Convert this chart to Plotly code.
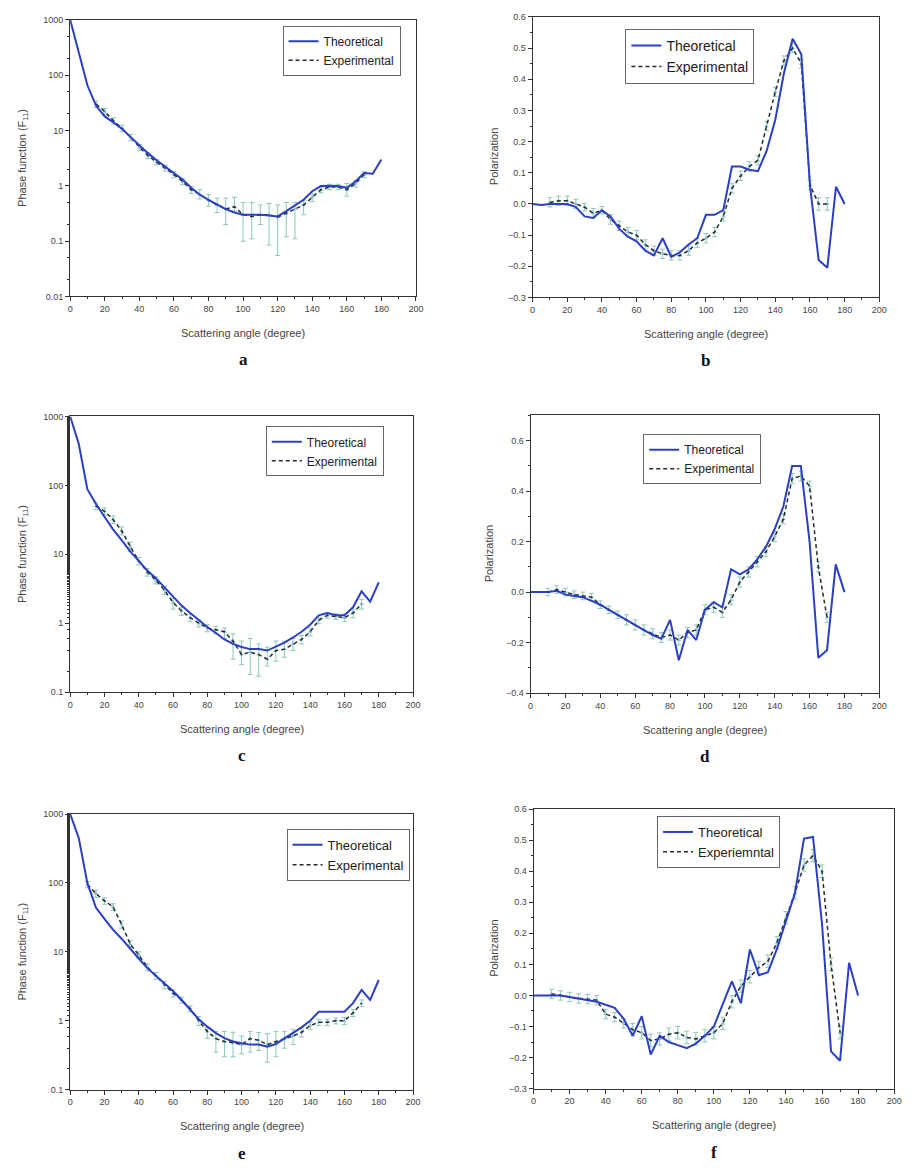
import plotly.graph_objects as go

W, H = 914, 1168

# ---- angles ----
theta = list(range(0, 181, 5))
exp_theta_15 = list(range(15, 171, 5))
exp_theta_10 = list(range(10, 171, 5))

# ---- panel a: phase function ----
theo_a = [1000, 270, 65, 28, 18, 14, 10.7, 7.6, 5.4, 3.9, 2.9, 2.2, 1.7, 1.3, 0.92, 0.69,
          0.56, 0.46, 0.38, 0.33, 0.30, 0.30, 0.30, 0.29, 0.28, 0.35, 0.44, 0.56, 0.80,
          0.99, 1.0, 0.99, 0.92, 1.2, 1.7, 1.65, 3.0]
exp_a = [30, 22, 15, 11, 7.5, 5.0, 3.5, 2.7, 2.1, 1.6, 1.2, 0.85, 0.70, 0.55, 0.45, 0.38,
         0.42, 0.30, 0.28, 0.30, 0.30, 0.27, 0.32, 0.38, 0.45, 0.62, 0.85, 0.95, 0.95,
         0.85, 1.1, 1.6]
exp_a_plus = [4, 3, 2, 1.5, 1, 0.6, 0.4, 0.3, 0.25, 0.2, 0.15, 0.12, 0.15, 0.15, 0.15,
              0.22, 0.2, 0.2, 0.22, 0.15, 0.18, 0.18, 0.18, 0.12, 0.1, 0.1, 0.1, 0.12,
              0.12, 0.25, 0.15, 0.2]
exp_a_minus = [4, 3, 2, 1.5, 1, 0.6, 0.4, 0.3, 0.25, 0.2, 0.15, 0.12, 0.12, 0.12, 0.12,
               0.18, 0.07, 0.2, 0.17, 0.1, 0.215, 0.215, 0.2, 0.27, 0.15, 0.1, 0.1, 0.1,
               0.1, 0.2, 0.15, 0.2]

# ---- panel b: polarization ----
theo_b = [0.0, -0.003, 0.0, 0.0, 0.0, -0.01, -0.04, -0.045, -0.02, -0.04, -0.08, -0.105,
          -0.12, -0.15, -0.165, -0.11, -0.17, -0.155, -0.13, -0.11, -0.035, -0.035, -0.02,
          0.12, 0.12, 0.11, 0.105, 0.17, 0.27, 0.42, 0.53, 0.48, 0.06, -0.18, -0.205,
          0.055, 0.0]
exp_b = [0.005, 0.01, 0.01, 0.0, -0.01, -0.03, -0.02, -0.05, -0.07, -0.09, -0.10, -0.13,
         -0.15, -0.16, -0.165, -0.165, -0.15, -0.125, -0.11, -0.09, -0.04, 0.05, 0.09,
         0.12, 0.14, 0.25, 0.36, 0.46, 0.50, 0.45, 0.06, 0.0, 0.0]
exp_b_err = [0.015, 0.015, 0.015, 0.015, 0.012, 0.015, 0.012, 0.015, 0.015, 0.015, 0.015,
             0.015, 0.015, 0.015, 0.015, 0.015, 0.015, 0.015, 0.015, 0.015, 0.015, 0.015,
             0.015, 0.015, 0.015, 0.015, 0.015, 0.015, 0.015, 0.015, 0.015, 0.02, 0.02]

# ---- panel c: phase function ----
theo_c = [1000, 400, 88, 54, 35, 23, 16, 11, 8.0, 5.8, 4.5, 3.3, 2.4, 1.8, 1.4, 1.1, 0.88,
          0.72, 0.58, 0.5, 0.45, 0.42, 0.42, 0.40, 0.45, 0.52, 0.62, 0.75, 0.95, 1.3,
          1.4, 1.3, 1.3, 1.7, 2.9, 2.05, 3.9]
exp_c = [50, 42, 32, 22, 13, 8, 5.5, 4.2, 3.0, 2.0, 1.5, 1.2, 1.0, 0.85, 0.80, 0.75, 0.55,
         0.35, 0.38, 0.35, 0.30, 0.40, 0.42, 0.50, 0.58, 0.75, 1.1, 1.3, 1.25, 1.2, 1.4,
         1.9]
exp_c_plus = [6, 5, 4, 3, 2, 1, 0.7, 0.5, 0.4, 0.3, 0.2, 0.15, 0.12, 0.1, 0.1, 0.1, 0.15,
              0.2, 0.22, 0.15, 0.15, 0.15, 0.12, 0.1, 0.08, 0.1, 0.12, 0.12, 0.12, 0.15,
              0.2, 0.3]
exp_c_minus = [6, 5, 4, 3, 2, 1, 0.7, 0.5, 0.4, 0.4, 0.2, 0.15, 0.12, 0.1, 0.1, 0.15,
               0.25, 0.1, 0.2, 0.18, 0.06, 0.12, 0.1, 0.1, 0.08, 0.1, 0.12, 0.12, 0.12,
               0.15, 0.2, 0.3]

# ---- panel d: polarization ----
theo_d = [0.0, 0.0, 0.0, 0.005, -0.01, -0.015, -0.02, -0.035, -0.05, -0.07, -0.09, -0.11,
          -0.13, -0.15, -0.17, -0.185, -0.11, -0.27, -0.15, -0.19, -0.07, -0.04, -0.06,
          0.09, 0.07, 0.09, 0.13, 0.18, 0.25, 0.34, 0.50, 0.50, 0.20, -0.26, -0.23, 0.11,
          0.0]
exp_d = [0.0, 0.01, 0.0, -0.01, -0.015, -0.02, -0.05, -0.07, -0.09, -0.11, -0.13, -0.15,
         -0.165, -0.18, -0.17, -0.19, -0.16, -0.15, -0.07, -0.06, -0.08, -0.03, 0.04, 0.08,
         0.12, 0.16, 0.22, 0.29, 0.45, 0.46, 0.42, 0.10, -0.10]
exp_d_err = [0.015, 0.015, 0.015, 0.015, 0.015, 0.015, 0.015, 0.015, 0.015, 0.02, 0.02,
             0.02, 0.02, 0.02, 0.02, 0.02, 0.02, 0.02, 0.02, 0.02, 0.02, 0.02, 0.02, 0.02,
             0.02, 0.02, 0.02, 0.02, 0.02, 0.02, 0.02, 0.02, 0.02]

# ---- panel e: phase function ----
theo_e = [1000, 450, 100, 44, 30, 21, 15.5, 11, 8.0, 5.8, 4.5, 3.4, 2.7, 2.0, 1.45, 1.05,
          0.82, 0.66, 0.56, 0.5, 0.47, 0.45, 0.45, 0.42, 0.46, 0.55, 0.65, 0.8, 1.0, 1.35,
          1.35, 1.35, 1.35, 1.8, 2.8, 2.0, 3.9]
exp_e = [95, 70, 55, 45, 25, 13, 9, 6, 4.5, 3.3, 2.5, 2.0, 1.5, 1.0, 0.70, 0.55, 0.50,
         0.48, 0.45, 0.55, 0.52, 0.45, 0.50, 0.55, 0.60, 0.68, 0.85, 0.95, 0.95, 1.0, 1.0,
         1.3, 1.8]
exp_e_plus = [10, 8, 6, 5, 3, 1.5, 1, 0.7, 0.5, 0.4, 0.3, 0.2, 0.15, 0.15, 0.1, 0.15, 0.2,
              0.2, 0.15, 0.15, 0.15, 0.2, 0.2, 0.15, 0.15, 0.1, 0.1, 0.1, 0.1, 0.1, 0.12,
              0.15, 0.2]
exp_e_minus = [10, 8, 6, 5, 3, 1.5, 1, 0.7, 0.5, 0.4, 0.3, 0.2, 0.15, 0.15, 0.15, 0.2,
               0.2, 0.18, 0.12, 0.2, 0.15, 0.2, 0.2, 0.15, 0.15, 0.1, 0.1, 0.1, 0.1, 0.1,
               0.12, 0.15, 0.2]

# ---- panel f: polarization ----
theo_f = [0.0, 0.0, 0.0, 0.0, -0.005, -0.01, -0.015, -0.02, -0.03, -0.04, -0.075, -0.13,
          -0.067, -0.19, -0.13, -0.15, -0.16, -0.17, -0.155, -0.13, -0.1, -0.03, 0.045,
          -0.025, 0.148, 0.065, 0.075, 0.15, 0.24, 0.33, 0.505, 0.51, 0.23, -0.18, -0.21,
          0.105, 0.0]
exp_f = [0.005, 0.0, -0.005, -0.01, -0.012, -0.015, -0.06, -0.07, -0.09, -0.11, -0.12,
         -0.145, -0.14, -0.125, -0.12, -0.135, -0.14, -0.13, -0.12, -0.09, -0.02, 0.03,
         0.06, 0.09, 0.11, 0.17, 0.25, 0.33, 0.42, 0.45, 0.40, 0.10, -0.12]
exp_f_err = [0.015, 0.015, 0.015, 0.015, 0.015, 0.015, 0.015, 0.015, 0.015, 0.02, 0.02,
             0.02, 0.02, 0.02, 0.02, 0.02, 0.02, 0.02, 0.02, 0.02, 0.02, 0.02, 0.02, 0.02,
             0.02, 0.02, 0.02, 0.02, 0.02, 0.02, 0.02, 0.02, 0.02]

# ---- tick labels ----
x_ticks = list(range(0, 201, 20))
log_ticks_a = [0.01, 0.1, 1, 10, 100, 1000]
log_labels_a = ["0.01", "0.1", "1", "10", "100", "1000"]
log_ticks_ce = [0.1, 1, 10, 100, 1000]
log_labels_ce = ["0.1", "1", "10", "100", "1000"]

THEO_COLOR = "#2b3fc4"
EXP_COLOR = "#1f2f2a"
ERR_COLOR = "#8cc9b9"
AXIS_COLOR = "#333333"
FONT = "Liberation Sans, Arial, sans-serif"


def dom_x(left, right):
    return [left / W, right / W]


def dom_y(top, bottom):
    return [1 - bottom / H, 1 - top / H]


panels = [
    dict(n=1, x=(68, 418), y=(15, 294), log=True, yr=(-2, 3), ticks=(log_ticks_a, log_labels_a),
         theo=theo_a, ex=exp_theta_15, ey=exp_a, ep=exp_a_plus, em=exp_a_minus,
         leg=(283, 21), lfs=12, exp_name="Experimental", letter="a",
         ytitle="Phase function (F<sub>11</sub>)", ytx=20),
    dict(n=2, x=(536, 887), y=(12, 295), log=False, yr=(-0.3, 0.6), dt=0.1, mdt=0.05,
         theo=theo_b, ex=exp_theta_10, ey=exp_b, ep=exp_b_err, em=exp_b_err,
         leg=(630, 24), lfs=14, exp_name="Experimental", letter="b",
         ytitle="Polarization", ytx=497),
    dict(n=3, x=(68, 415), y=(415, 693), log=True, yr=(-1, 3), ticks=(log_ticks_ce, log_labels_ce),
         theo=theo_c, ex=exp_theta_15, ey=exp_c, ep=exp_c_plus, em=exp_c_minus,
         leg=(266, 425), lfs=12, exp_name="Experimental", letter="c",
         ytitle="Phase function (F<sub>11</sub>)", ytx=20),
    dict(n=4, x=(534, 887), y=(414, 694), log=False, yr=(-0.4, 0.7), dt=0.2, mdt=0.1,
         theo=theo_d, ex=exp_theta_10, ey=exp_d, ep=exp_d_err, em=exp_d_err,
         leg=(648, 433), lfs=12, exp_name="Experimental", letter="d",
         ytitle="Polarization", ytx=492),
    dict(n=5, x=(68, 415), y=(816, 1094), log=True, yr=(-1, 3), ticks=(log_ticks_ce, log_labels_ce),
         theo=theo_e, ex=exp_theta_10, ey=exp_e, ep=exp_e_plus, em=exp_e_minus,
         leg=(287, 831), lfs=13, exp_name="Experimental", letter="e",
         ytitle="Phase function (F<sub>11</sub>)", ytx=20),
    dict(n=6, x=(537, 902), y=(811, 1093), log=False, yr=(-0.3, 0.6), dt=0.1, mdt=0.05,
         theo=theo_f, ex=exp_theta_10, ey=exp_f, ep=exp_f_err, em=exp_f_err,
         leg=(662, 818), lfs=13, exp_name="Experiemntal", letter="f",
         ytitle="Polarization", ytx=497),
]

fig = go.Figure()
layout = dict(
    width=W, height=H, margin=dict(l=0, r=0, t=0, b=0),
    paper_bgcolor="white", plot_bgcolor="white",
    font=dict(family=FONT, color="#333"), showlegend=True,
)
annotations = []

for p in panels:
    n = p["n"]
    sfx = "" if n == 1 else str(n)
    xa, ya = "x" + sfx, "y" + sfx
    legname = "legend" if n == 1 else "legend" + str(n)

    # experimental points with error bars
    fig.add_trace(go.Scatter(
        x=p["ex"], y=p["ey"], mode="markers", xaxis=xa, yaxis=ya,
        marker=dict(symbol="triangle-up", size=4, color="#8ab8d8"),
        error_y=dict(type="data", symmetric=False, array=p["ep"], arrayminus=p["em"],
                     color=ERR_COLOR, thickness=1, width=2.5),
        showlegend=False, hoverinfo="skip"))
    # experimental curve
    fig.add_trace(go.Scatter(
        x=p["ex"], y=p["ey"], mode="lines", xaxis=xa, yaxis=ya,
        line=dict(color=EXP_COLOR, width=1.5, dash="4px,3px"),
        name=p["exp_name"], legend=legname, legendrank=2))
    # theoretical curve
    fig.add_trace(go.Scatter(
        x=theta, y=p["theo"], mode="lines", xaxis=xa, yaxis=ya,
        line=dict(color=THEO_COLOR, width=2),
        name="Theoretical", legend=legname, legendrank=1))

    axis_common = dict(
        showline=True, linecolor=AXIS_COLOR, linewidth=1, mirror=True,
        ticks="outside", ticklen=4, tickcolor=AXIS_COLOR, tickwidth=1,
        tickfont=dict(size=9, color="#444", family=FONT),
        showgrid=False, zeroline=False,
    )
    layout["xaxis" + sfx] = dict(
        axis_common, domain=dom_x(*p["x"]), range=[0, 200], tickvals=x_ticks,
        minor=dict(dtick=10, tick0=0, ticks="outside", ticklen=2, tickcolor=AXIS_COLOR),
        anchor=ya,
    )
    if p["log"]:
        tv, tt = p["ticks"]
        layout["yaxis" + sfx] = dict(
            axis_common, domain=dom_y(*p["y"]), type="log", range=list(p["yr"]),
            tickvals=tv, ticktext=tt,
            minor=dict(ticks="outside", ticklen=2, tickcolor=AXIS_COLOR),
            anchor=xa,
        )
    else:
        layout["yaxis" + sfx] = dict(
            axis_common, domain=dom_y(*p["y"]), range=list(p["yr"]),
            tick0=-0.4, dtick=p["dt"], tickformat=".1f",
            minor=dict(dtick=p["mdt"], tick0=0, ticks="outside", ticklen=2,
                       tickcolor=AXIS_COLOR),
            anchor=xa,
        )

    lx, ly = p["leg"]
    layout[legname] = dict(
        x=lx / W, y=1 - ly / H, xanchor="left", yanchor="top",
        bgcolor="rgba(255,255,255,0.9)", bordercolor="#666", borderwidth=1,
        font=dict(size=p["lfs"], color="#222", family=FONT),
        itemwidth=30, tracegroupgap=0,
    )

    # axis titles and panel letter
    x_mid = (p["x"][0] + p["x"][1]) / 2
    bottom = p["y"][1]
    annotations.append(dict(
        text="Scattering angle (degree)", x=x_mid / W, y=1 - (bottom + 37) / H,
        xref="paper", yref="paper", showarrow=False, xanchor="center", yanchor="middle",
        font=dict(size=11, color="#444", family=FONT)))
    annotations.append(dict(
        text="<b>%s</b>" % p["letter"], x=x_mid / W, y=1 - (bottom + 64) / H,
        xref="paper", yref="paper", showarrow=False, xanchor="center", yanchor="middle",
        font=dict(size=17, color="#111", family="Liberation Serif, Times New Roman, serif")))
    y_mid = (p["y"][0] + p["y"][1]) / 2
    annotations.append(dict(
        text=p["ytitle"], x=p["ytx"] / W, y=1 - y_mid / H, textangle=-90,
        xref="paper", yref="paper", showarrow=False, xanchor="center", yanchor="middle",
        font=dict(size=11, color="#444", family=FONT)))

layout["annotations"] = annotations
fig.update_layout(**layout)
fig.write_html("out.html")
